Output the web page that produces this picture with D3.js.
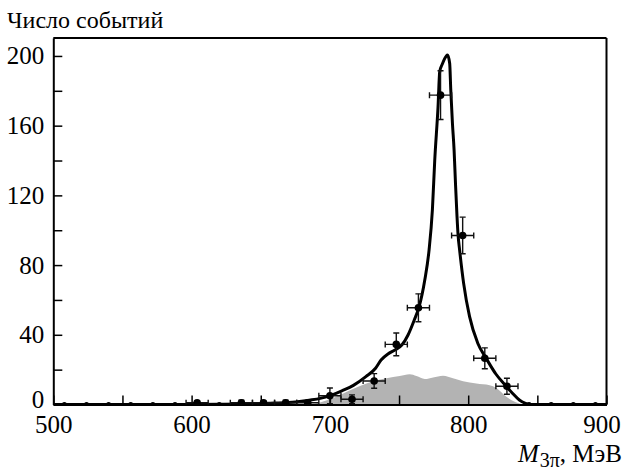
<!DOCTYPE html>
<html><head><meta charset="utf-8">
<script src="https://cdn.jsdelivr.net/npm/d3@7"></script>
<style>
body{margin:0;background:#fff;}
svg{display:block;}
svg text{font-family:"Liberation Serif","Times New Roman",serif;fill:#000;}
</style></head><body>
<svg id="c" width="626" height="469"></svg>
<script>
// ---- data ----
const yTitle = "Число событий";
const xTicksMajor = [500, 600, 700, 800, 900];
const xTicksAll = [500,550,600,650,700,750,800,850,900];
const yTicksMajor = [0, 40, 80, 120, 160, 200];
const yTicksAll = [0,20,40,60,80,100,120,140,160,180,200];

const ptX   = [508,524,540,556,572,588,604,620,636,652,668,684,700,716,732,748,764,780,796,812,828,844,860,876,892];
const ptY   = [0,0,0,0,0,0,1,0,1,1,1,1,5,3,13.5,34.5,55.5,177.5,97,26.5,10.5,0,0,0,0];
const ptErr = [0,0,0,0,0,0,1,0,1.5,1,1.5,1,4.5,2.5,4.2,6.5,8,14,10.5,6,4.6,0,0,0,0];
const ptXErr = 8;

const curveX = [500,600,620,640,660,675,685,693,701,709,717,726,733,737,742,747,752,756.5,761,764.5,768.6,771.7,774.1,775.8,778.2,779.4,781.3,784.2,785,786.6,787.4,788.6,789.8,790.8,791.9,792.7,793.8,796.7,801,807,813,820,827.6,832,837,841,845,900];
const curveY = [0,0,0.1,0.3,0.8,1.5,2.5,3.5,5.4,8,11,16,20.8,25.5,29,31.3,34.1,39.9,48.5,56,71.4,88.6,111.6,140,171,191,195.4,200,200.5,195.8,180.5,161.4,146,127,108,97,88.6,69.5,50.4,35,26.5,17.5,10.4,6.5,2.6,0.8,0,0];

const bgX = [688,700,710,720,730,741,750.5,757.7,762.6,768.6,774.6,781.8,789,796.3,805.9,815.5,820.4,827.6,834,840];
const bgY = [0,3,6.5,10,13,15,16.3,17.3,16.3,14.6,15.5,16.5,15,13.4,12.1,11.1,9.5,4.4,1.5,0];

// ---- layout ----
const FONT = '"Liberation Serif","Times New Roman",serif';
const svg = d3.select("#c");
const L = 53.3, R = 606.5, T = 38, B = 404.5;
const x = d3.scaleLinear().domain([500, 900]).range([L, R]);
const y = d3.scaleLinear().domain([0, 210.3]).range([B, T]);

svg.append("defs").append("clipPath").attr("id","clip")
  .append("rect").attr("x",L).attr("y",T).attr("width",R-L).attr("height",B-T);

// background (gray)
const bg = bgX.map((d,i)=>[d,bgY[i]]);
svg.append("path").datum(bg)
  .attr("fill","#b3b3b3")
  .attr("d", d3.area().x(d=>x(d[0])).y0(y(0)).y1(d=>y(d[1])).curve(d3.curveMonotoneX));

// frame top/right
svg.append("line").attr("x1",L).attr("x2",R).attr("y1",T).attr("y2",T).attr("stroke","#000").attr("stroke-width",2);
svg.append("line").attr("x1",R).attr("x2",R).attr("y1",T).attr("y2",B).attr("stroke","#000").attr("stroke-width",2);

// axes
const xAxis = d3.axisBottom(x).tickValues(xTicksAll)
  .tickFormat(d => xTicksMajor.includes(d) ? d : "")
  .tickSizeInner(-9).tickSizeOuter(0).tickPadding(11);
const gx = svg.append("g").attr("transform",`translate(0,${B})`).call(xAxis);
const yAxis = d3.axisLeft(y).tickValues(yTicksAll)
  .tickFormat(d => yTicksMajor.includes(d) ? d : "")
  .tickSizeInner(-9).tickSizeOuter(0).tickPadding(9);
const gy = svg.append("g").attr("transform",`translate(${L},0)`).call(yAxis);
[gx, gy].forEach(g=>{
  g.attr("font-family", FONT).attr("font-size", 25);
  g.select(".domain").attr("stroke","#000").attr("stroke-width",2);
  g.selectAll(".tick line").attr("stroke","#000").attr("stroke-width",1.5);
  g.selectAll("text").style("font-family",FONT).style("font-size","25px").attr("fill","#000");
});
gx.selectAll(".tick").filter(d=>d===900).select("text").attr("dx",-5);
gy.selectAll(".tick").filter(d=>d===0).select("text").attr("dy","0.1em");

// curve
const cdata = curveX.map((d,i)=>[d,curveY[i]]);
svg.append("path").datum(cdata)
  .attr("fill","none").attr("stroke","#000").attr("stroke-width",3).attr("stroke-linejoin","round")
  .attr("clip-path","url(#clip)")
  .attr("d", d3.line().x(d=>x(d[0])).y(d=>y(d[1])).curve(d3.curveMonotoneX));

// points with error bars
const pts = ptX.map((d,i)=>({x:d, y:ptY[i], e:ptErr[i]}));
const gp = svg.append("g").attr("clip-path","url(#clip)");
const eb = gp.selectAll("g.pt").data(pts).join("g").attr("class","pt");
const cap = 3;
eb.filter(d=>d.y>0).each(function(d){
  const g = d3.select(this);
  const ln = (x1,y1,x2,y2)=>g.append("line").attr("x1",x1).attr("y1",y1).attr("x2",x2).attr("y2",y2).attr("stroke","#111").attr("stroke-width",1.4);
  ln(x(d.x-ptXErr), y(d.y), x(d.x+ptXErr), y(d.y));
  ln(x(d.x-ptXErr), y(d.y)-cap, x(d.x-ptXErr), y(d.y)+cap);
  ln(x(d.x+ptXErr), y(d.y)-cap, x(d.x+ptXErr), y(d.y)+cap);
  if (d.e>0){
    ln(x(d.x), y(d.y-d.e), x(d.x), y(d.y+d.e));
    ln(x(d.x)-cap, y(d.y+d.e), x(d.x)+cap, y(d.y+d.e));
    ln(x(d.x)-cap, y(d.y-d.e), x(d.x)+cap, y(d.y-d.e));
  }
});
eb.append("circle").attr("cx",d=>x(d.x)).attr("cy",d=>y(d.y))
  .attr("r",d=>d.y>0?3.8:2.6).attr("fill","#000");

// titles
svg.append("text").attr("x",7).attr("y",28).style("font-family",FONT).style("font-size","24px").text(yTitle);
const xl = svg.append("text").attr("x",622).attr("y",461.5).attr("text-anchor","end").style("font-family",FONT).style("font-size","25px");
xl.append("tspan").attr("font-style","italic").text("M");
xl.append("tspan").style("font-size","20px").attr("dy",5).attr("dx",1).text("3π");
xl.append("tspan").attr("dy",-5).text(", МэВ");
</script>
</body></html>
